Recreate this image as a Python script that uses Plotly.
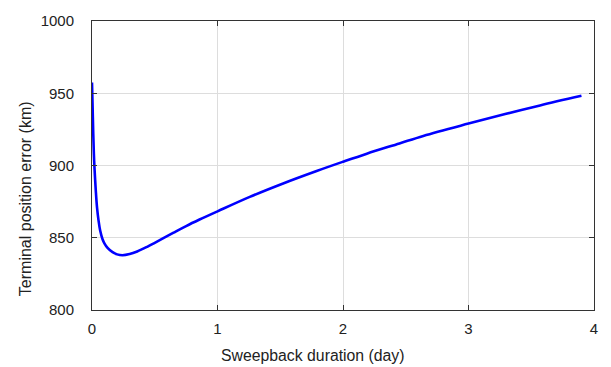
import plotly.graph_objects as go

# Sweepback duration (days) and resulting terminal position error (km)
duration_day = [0.000, 0.005, 0.010, 0.015, 0.020, 0.030, 0.040, 0.052, 0.065,
                0.084, 0.100, 0.124, 0.164, 0.200, 0.243, 0.300, 0.360, 0.443,
                0.500, 0.565, 0.650, 0.750, 0.857, 1.000, 1.257, 1.523, 1.790,
                2.000, 2.190, 2.450, 2.640, 3.000, 3.300, 3.570, 3.900]
error_km = [957.5, 940.0, 922.0, 908.0, 898.0, 883.0, 871.0, 862.0, 855.0,
            849.0, 846.0, 843.0, 840.0, 838.5, 837.9, 838.7, 840.5, 843.9,
            846.5, 849.5, 853.5, 858.1, 862.6, 868.3, 878.3, 887.6, 896.2,
            902.6, 908.2, 915.3, 920.5, 929.0, 935.8, 941.6, 948.2]

x_ticks = [0, 1, 2, 3, 4]
y_ticks = [800, 850, 900, 950, 1000]

FONT = "Liberation Sans, Arial, sans-serif"

fig = go.Figure()
fig.add_trace(go.Scatter(
    x=duration_day, y=error_km, mode="lines",
    line=dict(color="#0000ff", width=2.6, shape="spline", smoothing=1.0),
    hoverinfo="skip", showlegend=False,
))

axis_common = dict(
    showline=True, linecolor="#333333", linewidth=1, mirror="ticks",
    ticks="inside", ticklen=5, tickcolor="#333333", tickwidth=1,
    showgrid=True, gridcolor="#dddddd", gridwidth=1, zeroline=False,
    tickfont=dict(family=FONT, size=15, color="#222222"),
)

fig.update_layout(
    width=611, height=367,
    margin=dict(l=92, r=17, t=18, b=57),
    paper_bgcolor="white", plot_bgcolor="white",
    font=dict(family=FONT, size=16, color="#222222"),
    xaxis=dict(range=[0, 4], tickvals=x_ticks, ticklabelstandoff=5, **axis_common),
    yaxis=dict(range=[800, 1000], tickvals=y_ticks, ticklabelstandoff=14, **axis_common),
)

# Axis titles placed as annotations
fig.add_annotation(text="Sweepback duration (day)", xref="paper", yref="paper",
                   x=0.44, y=-0.158, xanchor="center", yanchor="middle",
                   showarrow=False, font=dict(family=FONT, size=15.8, color="#222222"))
fig.add_annotation(text="Terminal position error (km)", xref="paper", yref="paper",
                   x=-0.1335, y=0.387, xanchor="center", yanchor="middle",
                   textangle=-90, showarrow=False,
                   font=dict(family=FONT, size=16, color="#222222"))

fig.write_html("out.html")
